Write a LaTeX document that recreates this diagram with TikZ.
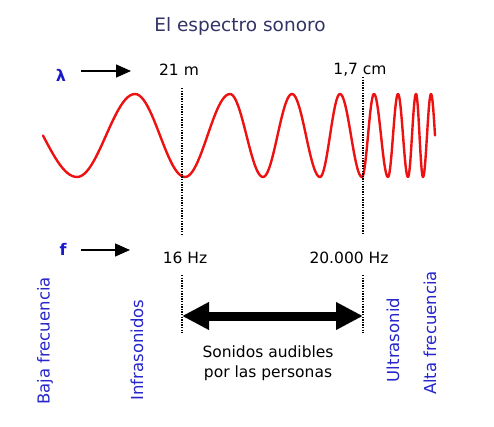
\documentclass[tikz,border=0pt]{standalone}
\usepackage{fontspec}
\setmainfont{DejaVu Sans}
\usetikzlibrary{arrows.meta}
\definecolor{titlenavy}{HTML}{333366}
\definecolor{labblue}{HTML}{2626CC}
\definecolor{symblue}{HTML}{1A1ACC}
\definecolor{wavered}{HTML}{EE1111}
\begin{document}
\begin{tikzpicture}[x=1pt,y=-1pt,
  lab/.style={font=\fontsize{15.5}{18}\selectfont, text=black, inner sep=0pt},
  sidelab/.style={font=\fontsize{16.5}{19}\selectfont, text=labblue, rotate=90, inner sep=0pt},
  sym/.style={font=\bfseries\fontsize{16}{18}\selectfont, text=symblue, inner sep=0pt},
  wave/.style={draw=wavered, line width=2.4pt, line join=round, line cap=round},
  dotline/.style={draw=black, line width=2.4pt, dash pattern=on 1.4pt off 1.2pt},
  smallarrow/.style={draw=black, line width=1.4pt, -{Triangle[length=15pt,width=13pt]}},
  bigarrow/.style={draw=black, line width=9pt, {Triangle[length=27pt,width=26pt]}-{Triangle[length=27pt,width=26pt]}}
]
\useasboundingbox (0,0) rectangle (494,427);
\fill[white] (0,0) rectangle (494,427);

% title
\node[font=\fontsize{18.5}{22}\selectfont, text=titlenavy, inner sep=0pt] (title) at (240,26) {El espectro sonoro};

% lambda row
\node[sym] (lambda) at (61,75) {λ};
\coordinate (la1) at (81,71);
\coordinate (la2) at (131,71);
\draw[smallarrow] (la1) -- (la2);
\node[lab] (l21) at (179,70) {21 m};
\node[lab] (l17) at (360,70) {1,7 cm};

% wave
\draw[wave] (43,135.5)
  -- plot[domain=90:180,samples=15] ({9+68*\x/180},{135.5-41.5*cos(\x)})
  \foreach \xa/\xb/\s in {77/135/1, 135/185/-1, 185/230/1, 230/263/-1, 263/292/1, 292/320/-1,
     320/340/1, 340/362/-1, 362/374/1, 374/388/-1, 388/398/1, 398/408/-1, 408/416/1, 416/423/-1, 423/431/1} {
    -- plot[domain=0:180,samples=25] ({\xa+(\xb-\xa)*\x/180},{135.5+\s*41.5*cos(\x)})
  }
  -- plot[domain=0:90,samples=10] ({431+8*\x/180},{135.5-41.5*cos(\x)});

% dotted lines
\coordinate (d1a) at (182,88);
\coordinate (d1b) at (182,235);
\coordinate (d1c) at (182,275);
\coordinate (d1d) at (182,333);
\coordinate (d2a) at (363,77);
\coordinate (d2b) at (363,235);
\coordinate (d2c) at (363,275);
\coordinate (d2d) at (363,333);
\draw[dotline] (d1a) -- (d1b);
\draw[dotline] (d1c) -- (d1d);
\draw[dotline] (d2a) -- (d2b);
\draw[dotline] (d2c) -- (d2d);

% frequency row
\node[sym] (f) at (63,249) {f};
\coordinate (fa1) at (81,250);
\coordinate (fa2) at (130,250);
\draw[smallarrow] (fa1) -- (fa2);
\node[lab] (l16) at (185,258) {16 Hz};
\node[lab] (l20) at (349,258) {20.000 Hz};

% audible range arrow
\coordinate (ar1) at (182,316);
\coordinate (ar2) at (363,316);
\draw[bigarrow] (ar1) -- (ar2);

\node[lab, align=center, font=\fontsize{15.5}{20}\selectfont] (aud) at (268,363) {Sonidos audibles\\por las personas};

% side labels
\node[sidelab] (baja) at (45,341) {Baja frecuencia};
\node[sidelab] (infra) at (137,350) {Infrasonidos};
\node[sidelab] (ultra) at (393,340) {Ultrasonid};
\node[sidelab] (alta) at (430,333) {Alta frecuencia};
\end{tikzpicture}
\end{document}
